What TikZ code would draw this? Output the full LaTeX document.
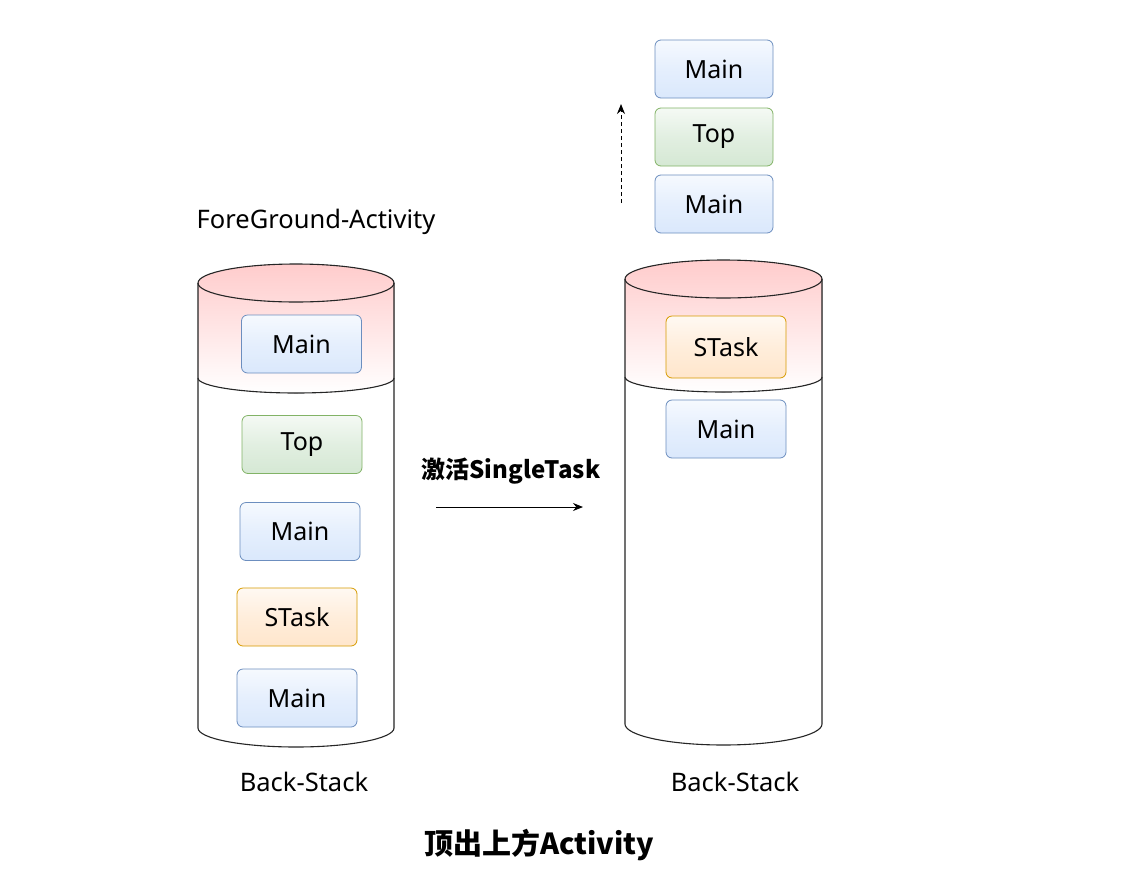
\documentclass[tikz,border=0pt]{standalone}
\usepackage{fontspec}
\setmainfont{Noto Sans}
\newfontfamily\cjk{Noto Sans CJK SC}
\usetikzlibrary{arrows.meta}
\definecolor{mainF}{HTML}{DAE8FC}
\definecolor{mainB}{HTML}{6C8EBF}
\definecolor{topF}{HTML}{D5E8D4}
\definecolor{topB}{HTML}{82B366}
\definecolor{taskF}{HTML}{FFE6CC}
\definecolor{taskB}{HTML}{D79B00}
\definecolor{pinkF}{HTML}{FFCCCC}
\tikzset{
  actbox/.style={rounded corners=6pt, minimum width=120pt, minimum height=58pt,
    inner sep=0pt, line width=0.8pt, font=\fontsize{25}{29}\selectfont},
  mainbox/.style={actbox, draw=mainB, top color=mainF!25!white, bottom color=mainF, middle color=mainF!70!white},
  topbox/.style={actbox, draw=topB, top color=topF!25!white, bottom color=topF, middle color=topF!70!white},
  taskbox/.style={actbox, draw=taskB, top color=taskF!25!white, bottom color=taskF, middle color=taskF!70!white},
  cyl/.style={draw=black!85, line width=1.1pt},
  lbl/.style={font=\fontsize{25.5}{29}\selectfont, inner sep=0pt},
  cjklbl/.style={font=\cjk\bfseries\fontsize{24}{28}\selectfont, inner sep=0pt},
}
\begin{document}
\begin{tikzpicture}[x=1pt,y=-1pt]
\useasboundingbox[fill=white] (0,0) rectangle (1122,868);
% ---------- left cylinder ----------
\fill[top color=pinkF, bottom color=white]
  (198,283) arc[start angle=180,end angle=0,x radius=98pt,y radius=19pt]
  -- (394,378) arc[start angle=0,end angle=-180,x radius=98pt,y radius=15pt] -- cycle;
\draw[cyl] (296,283) ellipse[x radius=98pt,y radius=19pt];
\draw[cyl] (198,283) -- (198,728)
  arc[start angle=180,end angle=360,x radius=98pt,y radius=19pt] -- (394,283);
\draw[cyl] (198,378) arc[start angle=180,end angle=360,x radius=98pt,y radius=15pt];
% ---------- right cylinder ----------
\fill[top color=pinkF, bottom color=white]
  (625,279) arc[start angle=180,end angle=0,x radius=98.5pt,y radius=19pt]
  -- (822,377) arc[start angle=0,end angle=-180,x radius=98.5pt,y radius=15pt] -- cycle;
\draw[cyl] (723.5,279) ellipse[x radius=98.5pt,y radius=19pt];
\draw[cyl] (625,279) -- (625,724)
  arc[start angle=180,end angle=360,x radius=98.5pt,y radius=21pt] -- (822,279);
\draw[cyl] (625,377) arc[start angle=180,end angle=360,x radius=98.5pt,y radius=15pt];
% ---------- left stack ----------
\node[mainbox] (l1) at (301.5,344) {Main};
\node[topbox]  (l2) at (302,444.5) {Top};
\node[mainbox] (l3) at (300,531.5) {Main};
\node[taskbox] (l4) at (297,617) {STask};
\node[mainbox] (l5) at (297,698) {Main};
% ---------- right stack ----------
\node[taskbox, minimum height=62pt] (r1) at (726,347) {STask};
\node[mainbox] (r2) at (726,429) {Main};
% ---------- popped ----------
\node[mainbox, minimum width=118pt] (p1) at (714,69) {Main};
\node[topbox, minimum width=118pt]  (p2) at (714,137) {Top};
\node[mainbox, minimum width=118pt] (p3) at (714,204) {Main};
% ---------- labels ----------
\node[lbl] (fg) at (316,222) {ForeGround-Activity};
\node[lbl] (bs1) at (304,782) {Back-Stack};
\node[lbl] (bs2) at (735,782) {Back-Stack};
\node[cjklbl] (act) at (511,471) {激活SingleTask};
\node[cjklbl, font=\cjk\bfseries\fontsize{29}{33}\selectfont] (title) at (539,845) {顶出上方Activity};
% ---------- arrows ----------
\coordinate (a1) at (436,507);
\coordinate (a2) at (583,507);
\draw[line width=1pt, -{Stealth[length=10pt,width=8pt]}] (a1) -- (a2);
\coordinate (d1) at (621,203);
\coordinate (d2) at (621,104);
\draw[line width=1pt, dashed, dash pattern=on 4pt off 3pt, -{Stealth[length=10pt,width=8pt]}] (d1) -- (d2);
\end{tikzpicture}
\end{document}
